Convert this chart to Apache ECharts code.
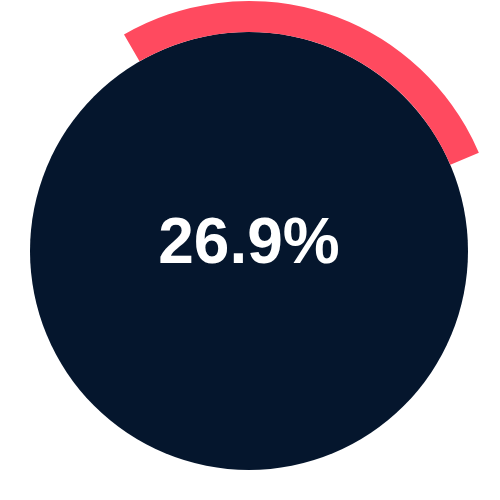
<!DOCTYPE html>
<html>
<head>
    <meta charset="UTF-8">
    <title>Gauge</title>
    <script src="https://cdn.jsdelivr.net/npm/echarts@6.0.0/dist/echarts.min.js"></script>
    <style>
        html, body { margin: 0; padding: 0; background: #fff; }
        #chart { width: 500px; height: 500px; }
    </style>
</head>
<body>
<div id="chart"></div>
<script>
    // data
    const share = 26.9;
    const rest = 100 - share;
    const labelText = share.toFixed(1) + '%';

    const chart = echarts.init(document.getElementById('chart'));

    const option = {
        animation: false,
        series: [
            {
                // dark disc with the value in the middle
                type: 'pie',
                silent: true,
                center: [249, 251],
                radius: [0, 219],
                label: {
                    show: true,
                    position: 'center',
                    formatter: labelText,
                    color: '#ffffff',
                    fontFamily: 'Liberation Sans, Arial, sans-serif',
                    fontWeight: 'bold',
                    fontSize: 64,
                    offset: [0, -6]
                },
                labelLine: { show: false },
                data: [{ value: 1, itemStyle: { color: '#05162d' } }]
            },
            {
                // red arc for the share
                type: 'pie',
                silent: true,
                center: [249, 251],
                radius: [219, 250],
                startAngle: 120,
                clockwise: true,
                label: { show: false },
                labelLine: { show: false },
                data: [
                    { value: share, itemStyle: { color: '#ff4a5f' } },
                    { value: rest, itemStyle: { color: 'transparent' } }
                ]
            }
        ]
    };

    chart.setOption(option);
</script>
</body>
</html>
